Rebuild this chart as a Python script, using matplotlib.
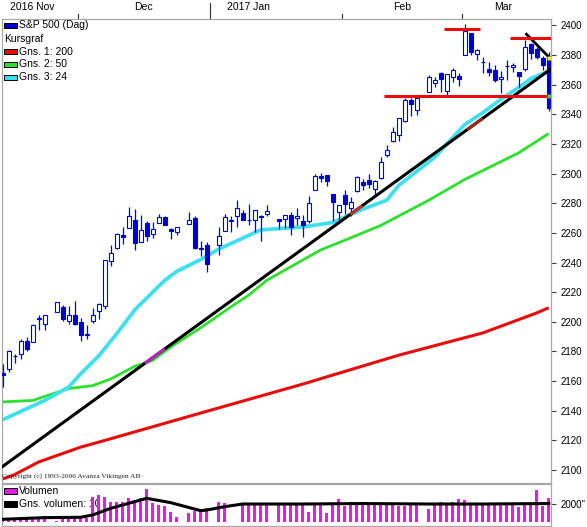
import numpy as np
import pandas as pd
import matplotlib
matplotlib.use("Agg")
import matplotlib.pyplot as plt
from matplotlib.patches import Rectangle
from matplotlib.transforms import blended_transform_factory

W, H = 587, 527
plt.rcParams['font.family'] = ['Liberation Sans', 'DejaVu Sans']

# --- daily candles, S&P 500 (Dag) ---
holidays = ['2016-11-24', '2016-12-26', '2017-01-02', '2017-01-16', '2017-02-20']
dates = pd.bdate_range('2016-11-14', '2017-03-21')
dates = dates[~dates.isin(pd.to_datetime(holidays))]

opens = [2165.6, 2168.3, 2177.0, 2178.6, 2186.8, 2186.4, 2201.6, 2198.6, 2206.3, 2210.2,
         2200.8, 2204.3, 2200.2, 2191.1, 2200.6, 2207.3, 2210.7, 2241.1, 2249.7, 2258.8,
         2263.3, 2268.4, 2253.8, 2266.8, 2259.2, 2266.5, 2270.5, 2262.9, 2260.3, 2266.2,
         2270.2, 2249.5, 2251.6, 2251.6, 2261.6, 2268.2, 2271.1, 2273.6, 2268.6, 2268.6,
         2271.1, 2272.7, 2269.1, 2269.1, 2271.9, 2270.0, 2267.8, 2267.9, 2288.9, 2298.6,
         2299.0, 2286.0, 2274.0, 2285.6, 2276.7, 2288.5, 2294.3, 2295.9, 2289.5, 2296.7,
         2312.3, 2321.7, 2326.1, 2335.6, 2349.6, 2343.0, 2354.9, 2361.1, 2367.5, 2355.7,
         2365.2, 2366.1, 2380.1, 2394.8, 2380.9, 2375.2, 2370.7, 2369.8, 2363.5, 2372.5,
         2371.6, 2368.6, 2370.3, 2387.7, 2383.7, 2378.2, 2379.3]
highs = [2171.4, 2180.8, 2178.0, 2188.1, 2189.9, 2198.7, 2204.8, 2204.7, 2213.4, 2211.1,
         2210.5, 2214.1, 2202.6, 2197.9, 2209.4, 2212.8, 2241.6, 2251.7, 2259.8, 2264.0,
         2277.5, 2276.2, 2272.1, 2268.1, 2267.5, 2272.6, 2271.2, 2263.2, 2263.8, 2273.8,
         2271.3, 2254.5, 2253.6, 2263.9, 2272.8, 2271.5, 2282.1, 2275.5, 2279.3, 2275.5,
         2271.8, 2278.7, 2269.1, 2272.1, 2274.3, 2277.0, 2271.8, 2284.6, 2299.6, 2300.4,
         2299.0, 2286.0, 2279.1, 2289.1, 2284.0, 2298.3, 2296.2, 2299.4, 2295.9, 2311.1,
         2319.2, 2331.6, 2337.6, 2351.3, 2351.3, 2351.2, 2366.7, 2365.1, 2368.3, 2367.3,
         2371.5, 2367.8, 2401.0, 2394.8, 2383.9, 2378.8, 2375.1, 2373.3, 2369.1, 2376.9,
         2374.4, 2368.6, 2390.0, 2388.1, 2385.7, 2379.0, 2381.9]
lows = [2156.1, 2166.4, 2172.0, 2175.0, 2180.4, 2186.4, 2194.5, 2194.5, 2206.3, 2200.4,
        2198.7, 2198.1, 2187.4, 2188.4, 2199.0, 2202.0, 2208.9, 2237.6, 2249.2, 2252.4,
        2263.3, 2248.4, 2253.8, 2254.2, 2256.5, 2266.5, 2265.2, 2256.1, 2258.8, 2266.2,
        2249.1, 2244.6, 2233.6, 2245.1, 2261.6, 2260.5, 2264.1, 2268.8, 2265.3, 2260.8,
        2254.3, 2271.5, 2262.8, 2263.3, 2258.4, 2265.0, 2257.0, 2266.7, 2288.9, 2294.1,
        2291.6, 2268.0, 2267.2, 2272.4, 2271.7, 2287.9, 2289.1, 2290.2, 2285.4, 2296.6,
        2311.1, 2321.4, 2322.2, 2334.8, 2338.9, 2339.6, 2354.9, 2358.3, 2355.1, 2352.9,
        2361.9, 2359.0, 2380.1, 2380.2, 2376.9, 2368.0, 2365.5, 2361.7, 2354.5, 2363.0,
        2368.5, 2358.2, 2368.9, 2377.2, 2377.6, 2369.7, 2341.9]
closes = [2164.2, 2180.4, 2176.9, 2187.1, 2181.9, 2198.2, 2202.9, 2204.7, 2213.4, 2201.7,
          2204.7, 2198.8, 2191.1, 2192.0, 2204.7, 2212.2, 2241.4, 2246.2, 2259.5, 2257.0,
          2271.7, 2253.3, 2262.0, 2258.1, 2262.5, 2270.8, 2265.2, 2261.0, 2263.8, 2268.9,
          2249.9, 2249.3, 2238.8, 2257.8, 2270.8, 2269.0, 2277.0, 2268.9, 2268.9, 2275.3,
          2270.4, 2274.6, 2267.9, 2271.9, 2263.7, 2271.3, 2265.2, 2280.1, 2298.4, 2296.7,
          2294.7, 2280.9, 2278.9, 2279.6, 2280.9, 2297.4, 2292.6, 2293.1, 2294.7, 2307.9,
          2316.1, 2328.3, 2337.6, 2349.3, 2347.2, 2351.2, 2365.4, 2362.8, 2363.8, 2367.3,
          2369.8, 2363.6, 2396.0, 2381.9, 2383.1, 2375.3, 2368.4, 2363.0, 2364.9, 2372.6,
          2373.5, 2365.5, 2385.3, 2381.4, 2378.3, 2373.5, 2344.0]
volume = [420, 430, 420, 410, 420, 420, 410, 400, 120, 430, 440, 700, 470, 450,
          2800, 2980, 2730, 2250, 2250, 2250, 2620, 2440, 2620, 3610, 2140, 1890, 1780,
          1160, 610, 980, 1270, 1340, 1530,
          2250, 2140, np.nan, np.nan, 2000, 2070, 2000, 1890, 1890, 2000, 2000, 2000, 2080,
          2080, 1160, 2080, 2080, 980, 2080, 2510,
          1780, 2250, 2140, 2000, 2080, 2140, 2140, 2080, 2080, 1780, 1780, 2080, 2080,
          1420, 2000, 2250, 1890, 2250, 2510,
          2440, 2080, 1890, 1890, 2000, 2080, 2000, 2000, 1890, 1630, 2000, 1890, 3530,
          1780, 2620]

# --- moving averages ---
ma200_dates = ['2016-11-14', '2016-11-16', '2016-11-22', '2016-12-01', '2016-12-07',
               '2016-12-29', '2017-01-23', '2017-02-14', '2017-03-06', '2017-03-13',
               '2017-03-17', '2017-03-21']
ma200_vals = [2094, 2097, 2105.5, 2115.5, 2120, 2138.5, 2158, 2177.5, 2192.5, 2200,
              2206, 2209.5]
ma50_dates = ['2016-11-14', '2016-11-21', '2016-11-29', '2016-12-05', '2016-12-08',
              '2016-12-14', '2016-12-19', '2016-12-22', '2016-12-29', '2017-01-05',
              '2017-01-10', '2017-01-13', '2017-01-26', '2017-02-01', '2017-02-09',
              '2017-02-21', '2017-03-01', '2017-03-14', '2017-03-21']
ma50_vals = [2146, 2147, 2155, 2157, 2161.5, 2170, 2174, 2183, 2196, 2210, 2218, 2228,
             2248.5, 2255, 2265, 2282, 2296, 2314, 2327]
ma24_dates = ['2016-11-14', '2016-11-23', '2016-11-29', '2016-12-01', '2016-12-06',
              '2016-12-08', '2016-12-09', '2016-12-14', '2016-12-19', '2016-12-21',
              '2016-12-23', '2016-12-29', '2017-01-03', '2017-01-12', '2017-01-23',
              '2017-01-30', '2017-02-06', '2017-02-10', '2017-02-14', '2017-02-22',
              '2017-03-01', '2017-03-06', '2017-03-09', '2017-03-14', '2017-03-16',
              '2017-03-21']
ma24_vals = [2134, 2147, 2156, 2165, 2177, 2187, 2192, 2208, 2220, 2228, 2234, 2242,
             2249, 2262, 2264, 2267, 2276, 2282, 2292, 2311, 2333, 2341, 2350, 2358,
             2364, 2369]
volavg_dates = ['2016-11-14', '2016-11-23', '2016-12-01', '2016-12-05', '2016-12-08',
                '2016-12-16', '2016-12-22', '2016-12-29', '2016-12-30', '2017-01-04',
                '2017-01-09', '2017-01-23', '2017-02-06', '2017-02-21', '2017-03-06',
                '2017-03-21']
volavg_vals = [330, 510, 550, 800, 1530, 2620, 2150, 1270, 1340, 1710, 2000, 2000,
               2050, 2000, 2000, 2050]

# --- drawn lines (trend lines and levels) ---
trend_up = (('2016-11-14', 2102.5), ('2017-03-21', 2369.5))
trend_down = (('2017-03-15', 2394), ('2017-03-21', 2378))
levels = [(2352.5, '2017-02-10', '2017-03-21'),
          (2397.3, '2017-02-24', '2017-03-03'),
          (2391.2, '2017-03-13', '2017-03-21')]

months = ['2016 Nov', 'Dec', '2017 Jan', 'Feb', 'Mar']
month_starts = ['2016-12-01', '2017-01-02', '2017-02-01', '2017-03-01']

BLUE = '#0000d0'
RED = '#e80c0c'
GREEN = '#2ee02e'
CYAN = '#3ee0f0'
MAG = '#e020e0'
GRID = '#a8a8a8'

t0 = np.datetime64('2016-11-14')


def slot(d):
    # weekday position counted from the first candle (holidays keep their slot)
    d = pd.to_datetime(pd.Index(np.atleast_1d(d))).values.astype('datetime64[D]')
    return np.busday_count(t0, d).astype(float)


def px_rect(x0, y0, x1, y1):
    return [x0 / W, 1 - y1 / H, (x1 - x0) / W, (y1 - y0) / H]


def vy(y):
    return 2400 - (y - 25.3) / 1.4827


fig = plt.figure(figsize=(W / 100, H / 100), dpi=100)
ax = fig.add_axes(px_rect(1.5, 19, 551.5, 483))
axv = fig.add_axes(px_rect(1.5, 484, 551.5, 526))

xl = ((1.5 - 2.7) / 6, (551.5 - 2.7) / 6)
x = slot(dates)

# moving averages
ax.plot(slot(ma200_dates), ma200_vals, color=RED, lw=2.2, zorder=2, solid_capstyle='butt')
ax.plot(slot(ma50_dates), ma50_vals, color=GREEN, lw=2.0, zorder=2, solid_capstyle='butt')
ax.plot(slot(ma24_dates), ma24_vals, color=CYAN, lw=2.7, zorder=2, solid_capstyle='butt')

# candles
o = np.array(opens); c = np.array(closes)
up = c >= o
ax.vlines(x, lows, highs, color=BLUE, lw=0.9, zorder=3)
ax.bar(x, c - o, bottom=o, width=0.66, color=np.where(up, 'white', BLUE),
       edgecolor=BLUE, linewidth=0.8, zorder=4)

# trend lines
(d0, v0), (d1, v1) = trend_up
s0, s1 = slot(d0)[0], slot(d1)[0]
k = (v1 - v0) / (s1 - s0)
tx = [xl[0], xl[1]]
tv = [v0 + k * (xl[0] - s0), v0 + k * (xl[1] - s0)]
ax.plot(tx, tv, color='black', lw=2.2, zorder=5, solid_capstyle='butt')
for (a, b), col in [((23.7, 27.0), '#c020c0'), ((57.9, 59.9), '#c83020'),
                    ((77.4, 80.0), '#a02818')]:
    ax.plot([a, b], np.interp([a, b], tx, tv), color=col, lw=2.2, zorder=5,
            solid_capstyle='butt')
(d0, v0), (d1, v1) = trend_down
ax.plot([slot(d0)[0] + 0.3, xl[1] - 0.3], [v0, v1], color='black', lw=2.0, zorder=5)
ax.plot([91.0], [2377.8], 's', ms=2.5, color='#f0f040', mec='none', zorder=6)

for lv, a, b in levels:
    ax.plot([slot(a)[0] - 0.5, min(slot(b)[0] + 0.6, xl[1])], [lv, lv],
            color=RED, lw=2.2, zorder=5, solid_capstyle='butt')
ax.plot([91.0], [2352.5], 's', ms=2.5, color='#40d040', mec='none', zorder=6)

ax.set_xlim(*xl)
ax.set_ylim(vy(483), vy(19))
ax.yaxis.tick_right()
ax.set_yticks(range(2100, 2401, 20))
ax.tick_params(axis='y', direction='out', length=3.5, width=0.8, labelsize=7, pad=3,
               color='#404040')
ax.set_xticks([])
for s in ax.spines.values():
    s.set_color(GRID)
    s.set_linewidth(0.9)

# month ticks and labels on top
tr = blended_transform_factory(ax.transData, ax.transAxes)
for d in month_starts:
    b = slot(d)[0] - 0.5
    top = 16 if d.startswith('2017-01') else 5
    ax.plot([b, b], [1, 1 + top / 464], transform=tr, clip_on=False, color='#303030', lw=0.8)
for lab, pos in zip(months, [4.9, 23.4, 41.0, 66.5, 83.4]):
    ax.text(pos, 1 + 12.5 / 464, lab, transform=tr, ha='center', va='center', fontsize=7.5)

# legend, price panel
ft = fig.transFigure


def swatch(axis, x0, y0, x1, y1, col):
    axis.add_patch(Rectangle((x0 / W, 1 - y1 / H), (x1 - x0) / W, (y1 - y0) / H,
                             transform=ft, facecolor=col, edgecolor='black', lw=0.7,
                             clip_on=False, zorder=1))


entries = [(25.0, BLUE, 'S&P 500 (Dag)'), (39.3, None, 'Kursgraf'),
           (51.7, RED, 'Gns. 1: 200'), (64.2, GREEN, 'Gns. 2: 50'),
           (77.5, CYAN, 'Gns. 3: 24')]
for yc, col, lab in entries:
    if col is None:
        ax.text(4.5 / W, 1 - yc / H, lab, transform=ft, va='center', fontsize=7.5)
    else:
        swatch(ax, 4, yc - 2.5, 17, yc + 2.5, col)
        ax.text(19.3 / W, 1 - yc / H, lab, transform=ft, va='center', fontsize=7.5)

ax.text(2 / W, 1 - 476 / H, 'Copyright (c) 1993-2006 Avanza Vikingen AB', transform=ft,
        va='center', fontsize=5.3, family=['Liberation Serif', 'DejaVu Serif'],
        color='#202020', zorder=6)

# volume panel
vol = np.array(volume, dtype=float)
axv.bar(x, vol, width=0.42, color=MAG, zorder=2)
axv.plot(slot(volavg_dates), volavg_vals, color='black', lw=2.2, zorder=3)
axv.set_xlim(*xl)
axv.set_ylim(-404, 4186)
axv.set_xticks([])
axv.yaxis.tick_right()
axv.set_yticks([2000])
axv.set_yticklabels(["2000''"])
axv.tick_params(axis='y', direction='out', length=3.5, width=0.8, labelsize=7, pad=3,
                color='#404040')
for s in axv.spines.values():
    s.set_color(GRID)
    s.set_linewidth(0.9)
swatch(axv, 4, 487.5, 16.7, 494, MAG)
axv.text(19.3 / W, 1 - 490.7 / H, 'Volumen', transform=ft, va='center', fontsize=7.5,
         zorder=1)
swatch(axv, 4, 500.7, 16.7, 506.7, 'black')
axv.text(19.3 / W, 1 - 503.7 / H, 'Gns. volumen: 10', transform=ft, va='center',
         fontsize=7.5, zorder=1)

fig.savefig('out.png', dpi=100)
